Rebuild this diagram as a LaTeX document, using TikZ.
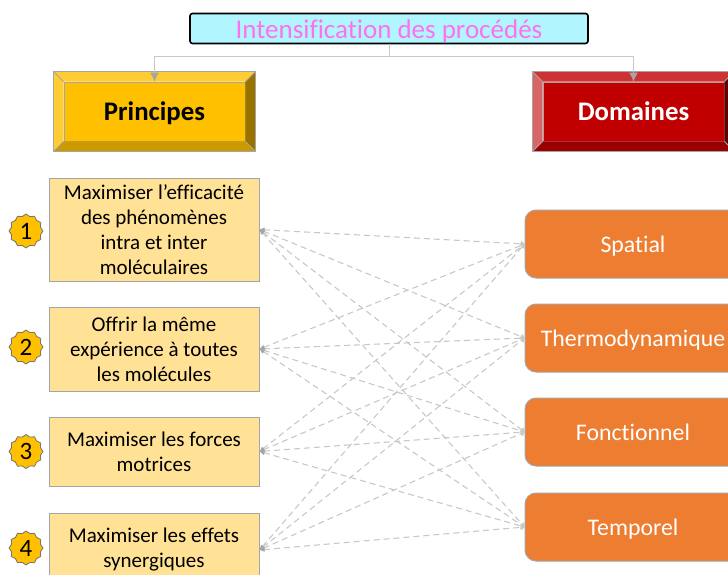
\documentclass[tikz,border=0pt]{standalone}
\usepackage{fontspec}
\setmainfont{Carlito}[Ligatures=NoCommon]
\usetikzlibrary{arrows.meta,shapes.geometric,positioning}

\definecolor{titlefill}{RGB}{177,246,255}
\definecolor{titletext}{RGB}{255,112,240}
\definecolor{edgegray}{RGB}{165,165,165}
\definecolor{linkgray}{RGB}{200,200,200}
\definecolor{goldmain}{RGB}{255,192,0}
\definecolor{redmain}{RGB}{192,0,0}
\definecolor{paleyellow}{RGB}{255,226,150}
\definecolor{orangebox}{RGB}{237,125,49}

% outer bevel round a named node: top, left, bottom, right
\newcommand{\bevel}[5]{
	\fill[#2] (#1.north west) -- +(-10,-10) -- ([shift={(10,-10)}]#1.north east) -- (#1.north east) -- cycle;
	\fill[#3] (#1.north west) -- +(-10,-10) -- ([shift={(-10,10)}]#1.south west) -- (#1.south west) -- cycle;
	\fill[#4] (#1.south west) -- +(-10,10) -- ([shift={(10,10)}]#1.south east) -- (#1.south east) -- cycle;
	\fill[#5] (#1.north east) -- +(10,-10) -- ([shift={(10,10)}]#1.south east) -- (#1.south east) -- cycle;
	\draw[edgegray, line width=1.2pt] ([shift={(-10,-10)}]#1.north west) rectangle ([shift={(10,10)}]#1.south east);
	\foreach \corner/\dx/\dy in {north west/-10/-10, north east/10/-10, south west/-10/10, south east/10/10}
		\draw[edgegray, line width=0.8pt] (#1.\corner) -- +(\dx,\dy);
}

\begin{document}
\begin{tikzpicture}
	[x=1pt, y=-1pt,
	titlebox/.style={rectangle, rounded corners=2.5pt, draw=black, line width=1.6pt, fill=titlefill, text=titletext, minimum width=398, minimum height=30, inner sep=0pt, text height=20pt, text depth=0pt, font=\fontsize{27}{28}\selectfont},
	bevelbox/.style={rectangle, draw=edgegray, line width=0.8pt, minimum width=181, minimum height=59, inner sep=0pt, text height=18.6pt, text depth=0pt, font=\fontsize{26.8}{28}\selectfont\bfseries},
	principle/.style={rectangle, draw=edgegray, line width=1pt, fill=paleyellow, minimum width=210, inner sep=0pt, align=center, font=\fontsize{21}{25}\selectfont},
	domainbox/.style={rectangle, rounded corners=11pt, draw=edgegray, line width=1pt, fill=orangebox, text=white, minimum width=216, minimum height=68, inner sep=0pt, text height=17pt, text depth=0pt, font=\fontsize{23.8}{25}\selectfont},
	badge/.style={star, star points=12, star point ratio=1.14, draw=edgegray!70!black, line width=0.8pt, fill=goldmain, minimum size=34, inner sep=0pt, font=\fontsize{25}{25}\selectfont},
	tree/.style={draw=linkgray, line width=1pt},
	treearrow/.style={tree, -{Latex[length=9pt,width=9pt,color=edgegray]}},
	link/.style={draw=linkgray, line width=1.1pt, dash pattern=on 6pt off 4pt, {Latex[length=5pt,width=5pt,color=edgegray]}-{To[length=4pt,width=6pt]}}]
	\clip (0,0) rectangle (728,575);

	\node[titlebox] (procede) at (389,28.5) {Intensification des procédés};

	\node[bevelbox, fill=goldmain] (principes) at (154.5,111.5) {Principes};
	\node[bevelbox, fill=redmain, text=white] (domaines) at (633.5,111.5) {Domaines};
	\bevel{principes}{goldmain!80!white}{goldmain!80!white}{goldmain!80!black}{goldmain!60!black}
	\bevel{domaines}{redmain!80!white}{redmain!60!white}{redmain!80!black}{redmain!50!black}

	\coordinate (branch) at (389,57);
	\draw[tree] (procede.south) -- (branch);
	\draw[treearrow] (branch) -| (principes.north);
	\draw[treearrow] (branch) -| (domaines.north);

	\node[principle, minimum height=103] (P1) at (154,229.5) {Maximiser l’efficacité\\des phénomènes\\intra et inter\\moléculaires};
	\node[principle, minimum height=84] (P2) at (154,349) {Offrir la même\\expérience à toutes\\les molécules};
	\node[principle, minimum height=69] (P3) at (154,451.5) {Maximiser les forces\\motrices};
	\node[principle, minimum height=74] (P4) at (154,550) {Maximiser les effets\\synergiques};

	\node[badge, left=5pt of P1, yshift=-1.5pt] (B1) {1};
	\node[badge, left=5pt of P2, yshift=2pt] (B2) {2};
	\node[badge, left=5pt of P3] (B3) {3};
	\node[badge, left=5pt of P4, yshift=2pt] (B4) {4};

	\node[domainbox] (D1) at (633,244) {Spatial};
	\node[domainbox] (D2) at (633,338) {Thermodynamique};
	\node[domainbox] (D3) at (633,432) {Fonctionnel};
	\node[domainbox] (D4) at (633,527) {Temporel};

	\foreach \p in {1,2,3,4}
		\foreach \d in {1,2,3,4}
			\draw[link] (P\p.east) to (D\d.west);
\end{tikzpicture}
\end{document}
